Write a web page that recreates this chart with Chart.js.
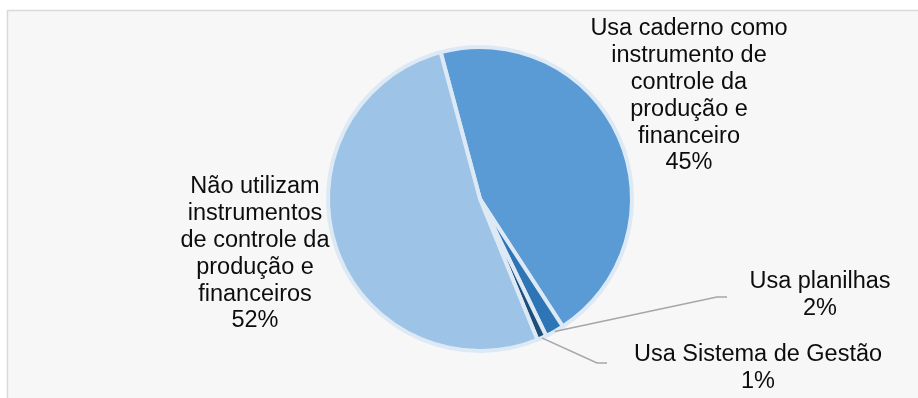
<!DOCTYPE html>
<html lang="pt-BR">
<head>
<meta charset="utf-8">
<title>Instrumentos de controle</title>
<script src="https://cdn.jsdelivr.net/npm/chart.js@4.4.0/dist/chart.umd.min.js"></script>
<style>
  html, body { margin: 0; padding: 0; background: #ffffff; }
  canvas { display: block; }
</style>
</head>
<body>
<canvas id="graficoControle" width="918" height="398"></canvas>
<script>
// categorias (cada item quebrado em linhas, como no rótulo)
const categorias = [
  ["Usa caderno como", "instrumento de", "controle da", "produção e", "financeiro"],
  ["Usa planilhas"],
  ["Usa Sistema de Gestão"],
  ["Não utilizam", "instrumentos", "de controle da", "produção e", "financeiros"],
];
const percentuais = [45, 2, 1, 52];
const cores = ["#5b9bd5", "#2e75b6", "#1f4e79", "#9dc3e6"];

// onde fica cada bloco de texto (centro da 1a linha) e, se houver, a linha guia
const rotulos = [
  { x: 689, y: 29 },
  { x: 820, y: 282, cotovelo: [717, 297], fim: [727, 297] },
  { x: 758, y: 355, cotovelo: [597, 363], fim: [607, 363] },
  { x: 255, y: 187 },
];

const fundo = {
  id: "fundo",
  beforeDraw(chart) {
    const ctx = chart.ctx;
    ctx.save();
    ctx.fillStyle = "#ffffff";
    ctx.fillRect(0, 0, chart.width, chart.height);
    ctx.fillStyle = "#f7f7f7";
    ctx.fillRect(7, 10, chart.width, chart.height);
    ctx.strokeStyle = "#d9d9d9";
    ctx.lineWidth = 1.5;
    ctx.beginPath();
    ctx.moveTo(7.5, chart.height);
    ctx.lineTo(7.5, 10.5);
    ctx.lineTo(chart.width, 10.5);
    ctx.stroke();
    ctx.restore();
  },
};

const textos = {
  id: "textos",
  afterDatasetsDraw(chart) {
    const ctx = chart.ctx;
    const arcos = chart.getDatasetMeta(0).data;
    const alturaLinha = 26.8;
    ctx.save();
    arcos.forEach((arco, i) => {
      const r = rotulos[i];
      if (r.cotovelo) {
        const { x, y, startAngle, endAngle, outerRadius } = arco.getProps(
          ["x", "y", "startAngle", "endAngle", "outerRadius"], true);
        const meio = (startAngle + endAngle) / 2;
        ctx.strokeStyle = "#a6a6a6";
        ctx.lineWidth = 1.5;
        ctx.beginPath();
        ctx.moveTo(x + Math.cos(meio) * outerRadius, y + Math.sin(meio) * outerRadius);
        ctx.lineTo(r.cotovelo[0], r.cotovelo[1]);
        ctx.lineTo(r.fim[0], r.fim[1]);
        ctx.stroke();
      }
      const linhas = categorias[i].concat([percentuais[i] + "%"]);
      ctx.fillStyle = "#0d0d0d";
      ctx.font = '23.5px "Liberation Sans", Arial, sans-serif';
      ctx.textAlign = "center";
      ctx.textBaseline = "middle";
      linhas.forEach((t, k) => ctx.fillText(t, r.x, r.y + k * alturaLinha));
    });
    ctx.restore();
  },
};

new Chart(document.getElementById("graficoControle"), {
  type: "pie",
  data: {
    labels: categorias.map((c) => c.join(" ")),
    datasets: [
      {
        data: percentuais,
        backgroundColor: cores,
        borderColor: "#ddeaf6",
        borderWidth: 4,
      },
    ],
  },
  options: {
    responsive: false,
    animation: false,
    rotation: -15,
    radius: 152,
    layout: { padding: { left: 42, right: 0, top: 0, bottom: 0 } },
    plugins: {
      legend: { display: false },
      tooltip: { enabled: false },
    },
  },
  plugins: [fundo, textos],
});
</script>
</body>
</html>
